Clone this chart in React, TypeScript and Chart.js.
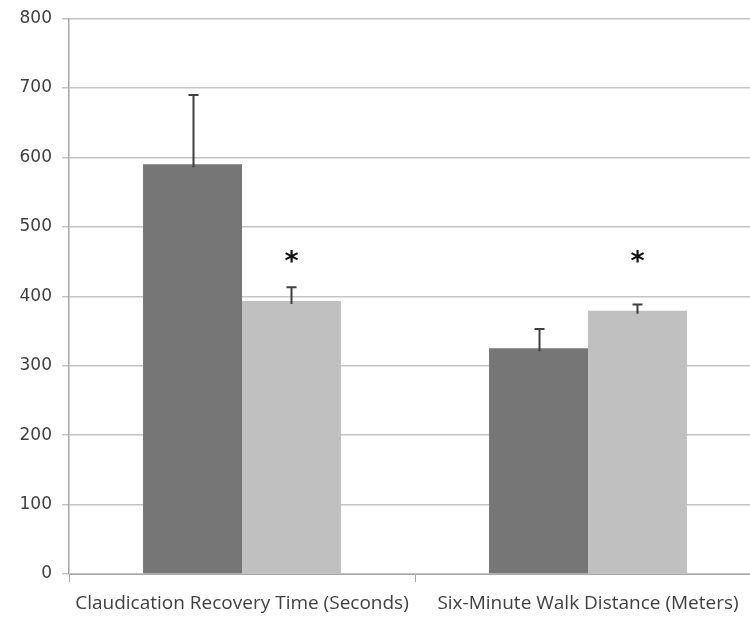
import React, { useEffect, useRef } from "react";
import { Chart, registerables } from "chart.js";

Chart.register(...registerables);

const categories = [
  "Claudication Recovery Time (Seconds)",
  "Six-Minute Walk Distance (Meters)",
];
const seriesA = [590, 325];
const seriesAErr = [100, 28];
const seriesB = [393, 379];
const seriesBErr = [20, 9];
const significanceY = [455, 455];
const significanceMark = "*";
const yTicks = [0, 100, 200, 300, 400, 500, 600, 700, 800];

const errorBarPlugin = {
  id: "errorBars",
  afterDatasetsDraw(chart: any) {
    const ctx = chart.ctx;
    const yScale = chart.scales.y;
    const errs = [seriesAErr, seriesBErr];
    const vals = [seriesA, seriesB];
    ctx.save();
    chart.data.datasets.forEach((_: any, di: number) => {
      const meta = chart.getDatasetMeta(di);
      meta.data.forEach((el: any, j: number) => {
        const x = Math.round(el.x) + 0.5;
        const yTop = yScale.getPixelForValue(vals[di][j] + errs[di][j]);
        const yBase = el.y + 3;
        ctx.strokeStyle = "#3f3f3f";
        ctx.lineWidth = 2;
        ctx.beginPath();
        ctx.moveTo(x, yBase);
        ctx.lineTo(x, yTop);
        ctx.moveTo(x - 5, yTop);
        ctx.lineTo(x + 5, yTop);
        ctx.stroke();
      });
    });
    // significance marks above second series
    const metaB = chart.getDatasetMeta(1);
    ctx.fillStyle = "#111111";
    ctx.font = "bold 27px 'DejaVu Sans'";
    ctx.textAlign = "center";
    ctx.textBaseline = "middle";
    metaB.data.forEach((el: any, j: number) => {
      const y = yScale.getPixelForValue(significanceY[j]);
      ctx.fillText(significanceMark, el.x, y + 5);
    });
    ctx.restore();
  },
};

export default function App() {
  const ref = useRef<HTMLCanvasElement | null>(null);
  useEffect(() => {
    if (!ref.current) return;
    const chart = new Chart(ref.current, {
      type: "bar",
      data: {
        labels: categories,
        datasets: [
          {
            label: "Before",
            data: seriesA,
            backgroundColor: "#767676",
            borderWidth: 0,
          },
          {
            label: "After",
            data: seriesB,
            backgroundColor: "#c0c0c0",
            borderWidth: 0,
          },
        ],
      },
      options: {
        animation: false,
        responsive: false,
        devicePixelRatio: 1,
        layout: { padding: { top: 16, right: 0, left: 0, bottom: 0 } },
        plugins: {
          legend: { display: false },
          tooltip: { enabled: false },
        },
        datasets: {
          bar: { categoryPercentage: 0.572, barPercentage: 1 },
        },
        scales: {
          x: {
            grid: {
              offset: true,
              drawOnChartArea: false,
              drawTicks: true,
              tickLength: 8,
              color: "#a6a6a6",
              lineWidth: 1,
            },
            border: { color: "#a6a6a6", width: 1 },
            ticks: {
              padding: 10,
              color: "#404040",
              font: { family: "'Open Sans'", size: 19 },
              maxRotation: 0,
              autoSkip: false,
            },
            afterFit(scale: any) {
              scale.height = 46;
            },
          },
          y: {
            min: 0,
            max: 800,
            afterBuildTicks(scale: any) {
              scale.ticks = yTicks.map((v) => ({ value: v }));
            },
            grid: {
              color: "#c4c4c4",
              lineWidth: 1.5,
              tickLength: 7,
            },
            border: { color: "#a6a6a6", width: 1.5 },
            ticks: {
              padding: 10,
              color: "#404040",
              font: { family: "'DejaVu Sans'", size: 17, lineHeight: 1 },
            },
            afterFit(scale: any) {
              scale.width = 69;
            },
          },
        },
      },
      plugins: [errorBarPlugin],
    });
    return () => chart.destroy();
  }, []);
  return (
    <div
      style={{
        position: "absolute",
        left: 0,
        top: 0,
        width: 750,
        height: 620,
        overflow: "hidden",
        background: "#ffffff",
      }}
    >
      <canvas ref={ref} width={761} height={620} />
    </div>
  );
}
